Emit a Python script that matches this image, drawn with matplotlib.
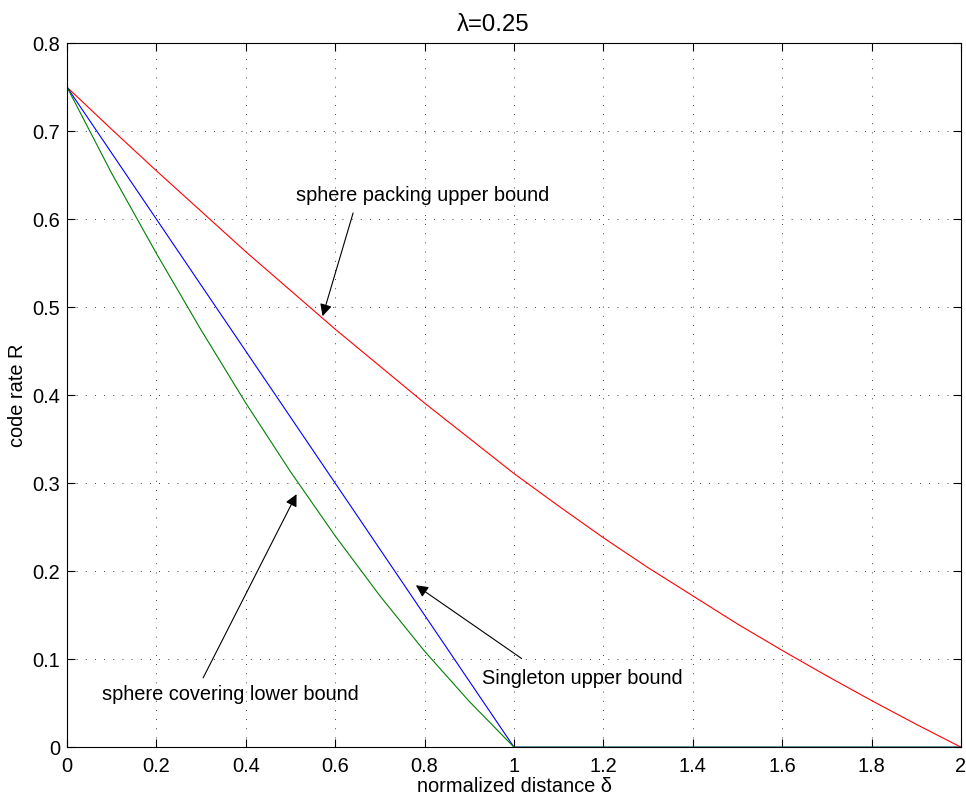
import matplotlib
matplotlib.use("Agg")
import matplotlib.pyplot as plt

plt.rcParams['font.family'] = ['Liberation Sans', 'DejaVu Sans']
plt.rcParams['font.size'] = 14.4

# curves
red_x = [0.0, 0.1, 0.2, 0.3, 0.4, 0.5, 0.6, 0.7, 0.8, 0.9, 1.0,
         1.1, 1.2, 1.3, 1.4, 1.5, 1.6, 1.7, 1.8, 1.9, 2.0]
red_y = [0.75, 0.702, 0.655, 0.609, 0.563, 0.519, 0.475, 0.433, 0.391, 0.351, 0.311,
         0.274, 0.238, 0.204, 0.172, 0.140, 0.110, 0.081, 0.053, 0.026, 0.0]

blue_x = [0.0, 1.0, 2.0]
blue_y = [0.75, 0.0, 0.0]

green_x = [0.0, 0.1, 0.2, 0.3, 0.4, 0.5, 0.6, 0.7, 0.8, 0.9, 1.0, 2.0]
green_y = [0.75, 0.652, 0.561, 0.474, 0.391, 0.313, 0.240, 0.172, 0.109, 0.052, 0.0, 0.0]

xticks = [0, 0.2, 0.4, 0.6, 0.8, 1, 1.2, 1.4, 1.6, 1.8, 2]
xtick_labels = ['0', '0.2', '0.4', '0.6', '0.8', '1', '1.2', '1.4', '1.6', '1.8', '2']
yticks = [0, 0.1, 0.2, 0.3, 0.4, 0.5, 0.6, 0.7, 0.8]
ytick_labels = ['0', '0.1', '0.2', '0.3', '0.4', '0.5', '0.6', '0.7', '0.8']

fig = plt.figure(figsize=(9.66, 8), dpi=100)
ax = fig.add_axes([0.0694, 0.066, 0.9254, 0.880])

ax.plot(red_x, red_y, color=(1, 0, 0), lw=0.8)
ax.plot(blue_x, blue_y, color=(0, 0, 1), lw=0.8)
ax.plot(green_x, green_y, color=(0, 0.5, 0), lw=0.8)

ax.set_xlim(0, 2)
ax.set_ylim(0, 0.8)
ax.set_xticks(xticks)
ax.set_xticklabels(xtick_labels)
ax.set_yticks(yticks)
ax.set_yticklabels(ytick_labels)
ax.tick_params(direction='in', length=6, width=0.8, top=True, right=True)
ax.tick_params(axis='x', pad=7)
ax.tick_params(axis='y', pad=5)
for s in ax.spines.values():
    s.set_linewidth(0.8)

ax.grid(True, color='k', linestyle=(0, (1, 10)), linewidth=0.6)

ax.set_xlabel('normalized distance δ', labelpad=1)
ax.set_ylabel('code rate R', labelpad=4)
ax.set_title('λ=0.25', x=0.4765, pad=9)

arrow = dict(arrowstyle='-|>', color='k', lw=0.8, mutation_scale=18,
             shrinkA=0, shrinkB=0)

ax.text(0.513, 0.627, 'sphere packing upper bound', va='center', ha='left')
ax.annotate('', xy=(0.5717, 0.4898), xytext=(0.640, 0.607), arrowprops=arrow)

ax.text(0.079, 0.060, 'sphere covering lower bound', va='center', ha='left')
ax.annotate('', xy=(0.5135, 0.2875), xytext=(0.3045, 0.0788), arrowprops=arrow)

ax.text(0.9276, 0.078, 'Singleton upper bound', va='center', ha='left')
ax.annotate('', xy=(0.7806, 0.184), xytext=(1.017, 0.1008), arrowprops=arrow)

fig.savefig('out.png', dpi=100)
